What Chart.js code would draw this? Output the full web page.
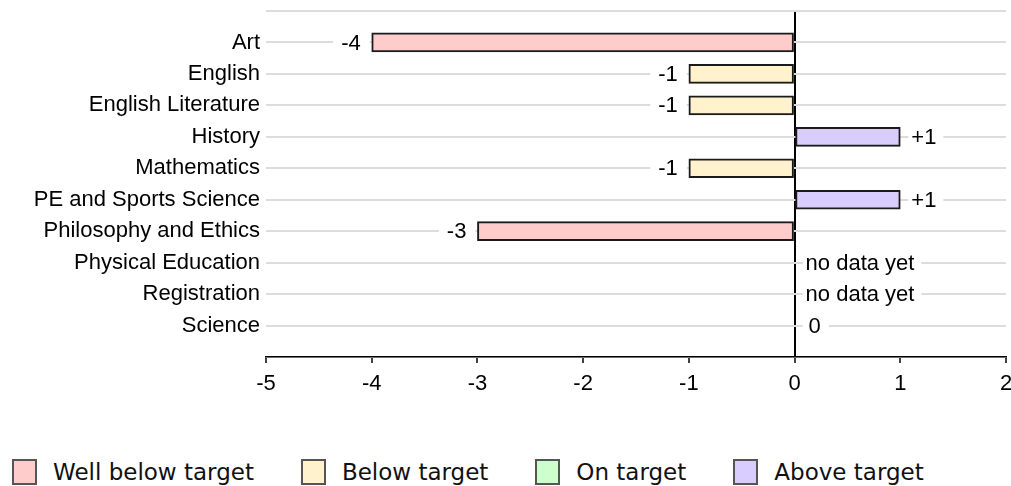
<!DOCTYPE html>
<html>
<head>
<meta charset="utf-8">
<script src="https://cdn.jsdelivr.net/npm/chart.js@4.4.1/dist/chart.umd.min.js"></script>
<style>
  body { margin: 0; background: #fff; }
  #wrap { position: relative; width: 1011px; height: 400px; }
  #legend { position: absolute; left: 12px; top: 459px; display: flex; align-items: center;
            font-family: "DejaVu Sans", Verdana, sans-serif; font-size: 23px; color: #111; }
  #legend .item { display: flex; align-items: center; margin-right: 47px; }
  #legend .box { width: 21px; height: 22px; border: 2px solid #555; margin-right: 16px; }
</style>
</head>
<body>
<div id="wrap"><canvas id="progressChart"></canvas></div>
<div id="legend"></div>
<script>
// subjects, top to bottom
const subjects = ['Art', 'English', 'English Literature', 'History', 'Mathematics',
    'PE and Sports Science', 'Philosophy and Ethics', 'Physical Education', 'Registration', 'Science'];
// grades above / below target (null = no data yet)
const progress = [-4, -1, -1, 1, -1, 1, -3, null, null, 0];
const bands = ['Well below target', 'Below target', 'On target', 'Above target'];
const bandColors = ['#ffcccc', '#fff2cc', '#ccffcc', '#d9ccff'];
const xTicks = [-5, -4, -3, -2, -1, 0, 1, 2];

function bandOf(v) {
    if (v === null) return -1;
    if (v <= -2) return 0;
    if (v < 0) return 1;
    if (v === 0) return 2;
    return 3;
}

// empty slot above and below the subjects
const rows = [''].concat(subjects, ['']);
const values = [null].concat(progress, [null]);

const datasets = bands.map(function (name, b) {
    return {
        label: name,
        data: values.map(function (v) { return bandOf(v) === b ? v : null; }),
        backgroundColor: bandColors[b],
        borderColor: '#1a1a1a',
        borderWidth: 2,
        borderSkipped: false,
        barThickness: 19
    };
});

const labelFont = '"Liberation Sans", Arial, sans-serif';

// value labels next to the bars, on a white patch
const valueLabels = {
    id: 'valueLabels',
    afterDatasetsDraw(chart) {
        const c = chart.ctx;
        const x = chart.scales.x, y = chart.scales.y;
        c.save();
        c.font = '22px ' + labelFont;
        c.textBaseline = 'middle';
        values.forEach(function (v, i) {
            if (i === 0 || i === values.length - 1) return;
            const yy = y.getPixelForValue(i);
            let txt, tx, rx, w;
            if (v === null || v >= 0) {
                txt = v === null ? 'no data yet' : (v > 0 ? '+' + v : String(v));
                const end = x.getPixelForValue(v === null ? 0 : v);
                w = c.measureText(txt).width;
                rx = end + 8;
                tx = rx + (v === 0 ? 6 : 3);
                c.fillStyle = '#fff';
                c.fillRect(rx, yy - 10, w + (v === 0 ? 14 : 10), 20);
                c.fillStyle = '#000';
                c.textAlign = 'left';
                c.fillText(txt, tx, yy + 1);
            } else {
                txt = String(v);
                const end = x.getPixelForValue(v);
                w = c.measureText(txt).width;
                tx = end - 11;
                c.fillStyle = '#fff';
                c.fillRect(tx - w - 8, yy - 10, w + 17, 20);
                c.fillStyle = '#000';
                c.textAlign = 'right';
                c.fillText(txt, tx, yy + 1);
            }
        });
        c.restore();
    }
};

new Chart(document.getElementById('progressChart'), {
    type: 'bar',
    data: { labels: rows, datasets: datasets },
    plugins: [valueLabels],
    options: {
        indexAxis: 'y',
        responsive: true,
        maintainAspectRatio: false,
        animation: false,
        layout: { padding: { top: 11, right: 0, bottom: 0, left: 0 } },
        plugins: { legend: { display: false }, tooltip: { enabled: false } },
        scales: {
            x: {
                min: -5,
                max: 2,
                afterBuildTicks: function (s) { s.ticks = xTicks.map(function (v) { return { value: v }; }); },
                afterFit: function (s) { s.height = 43; s.paddingLeft = 0; s.paddingRight = 5; },
                grid: {
                    color: function (ctx) { return ctx.tick && ctx.tick.value === 0 ? '#000' : 'rgba(0,0,0,0)'; },
                    lineWidth: 2,
                    tickColor: '#000',
                    tickLength: 6,
                    tickWidth: 1.5
                },
                border: { display: true, color: '#000', width: 1.5 },
                ticks: { color: '#000', padding: 8, font: { family: labelFont, size: 22 } }
            },
            y: {
                stacked: true,
                offset: false,
                afterFit: function (s) { s.width = 266; s.paddingTop = 0; s.paddingBottom = 0; },
                grid: { color: '#dcdcdc', lineWidth: 2, drawTicks: false, offset: false },
                border: { display: false },
                ticks: { color: '#000', padding: 6, autoSkip: false, font: { family: labelFont, size: 22 } }
            }
        }
    }
});

const legend = document.getElementById('legend');
bands.forEach(function (name, b) {
    const item = document.createElement('div');
    item.className = 'item';
    const box = document.createElement('span');
    box.className = 'box';
    box.style.background = bandColors[b];
    const label = document.createElement('span');
    label.textContent = name;
    item.appendChild(box);
    item.appendChild(label);
    legend.appendChild(item);
});
</script>
</body>
</html>
